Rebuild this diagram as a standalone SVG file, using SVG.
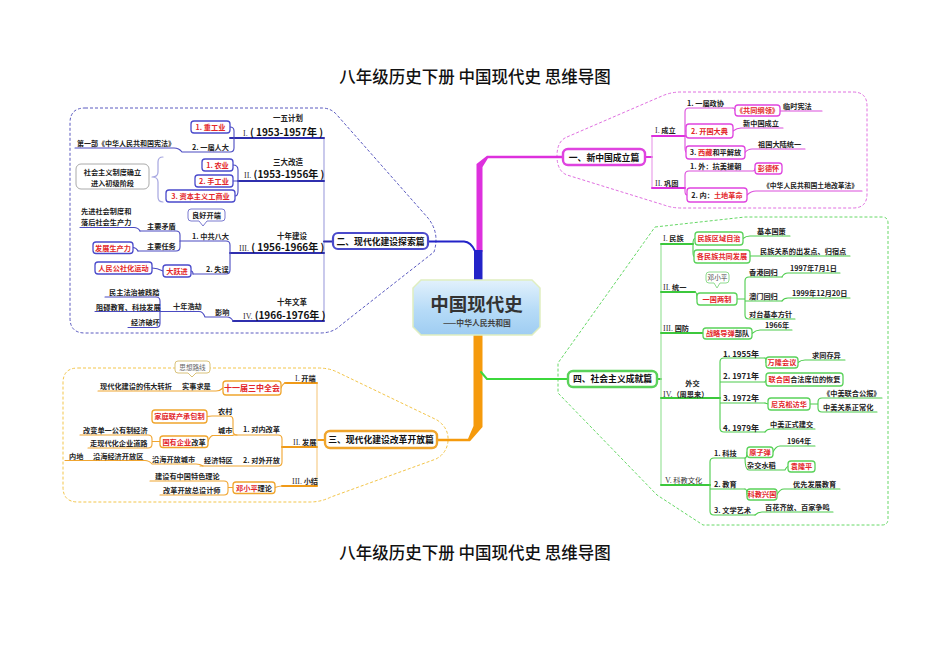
<svg xmlns="http://www.w3.org/2000/svg" width="950" height="672" viewBox="0 0 950 672">
<defs>
<linearGradient id="cg" x1="0" y1="0" x2="0" y2="1">
<stop offset="0" stop-color="#e2f1fc"/>
<stop offset="0.55" stop-color="#b6dbf7"/>
<stop offset="1" stop-color="#9fcdf2"/>
</linearGradient>
<style>
.t{font-family:"Noto Sans CJK SC","Noto Sans",sans-serif;font-size:7.2px;font-weight:bold;fill:#222}
.c{text-anchor:middle}
.r{fill:#e3262a}
.k{fill:#222}
.h{font-size:8.8px;fill:#111}
.yr{font-size:10px;fill:#111}
.sm{font-size:6.8px}
.n8{font-size:8px}
.rn{font-family:"Liberation Serif",serif;font-weight:normal;font-size:8px;fill:#333}
.gr{font-weight:normal;fill:#666;font-size:6.6px}
.ttl{font-family:"Noto Sans CJK SC",sans-serif;font-size:16.5px;font-weight:500;fill:#111;text-anchor:middle}
.L{fill:none;stroke-linecap:round;stroke-linejoin:round}
.lb{stroke:#4a4ac2;stroke-width:1.1}
.lbm{stroke:#2f2fae;stroke-width:2}
.lbv{stroke:#a6a6e0;stroke-width:1.2}
.lm{stroke:#dc4edc;stroke-width:1.1}
.lmm{stroke:#dd30dd;stroke-width:2}
.lmv{stroke:#eaa0ea;stroke-width:1.2}
.lg{stroke:#4ccc4c;stroke-width:1.1}
.lgm{stroke:#3cc83c;stroke-width:2}
.lgv{stroke:#9be39b;stroke-width:1.2}
.lo{stroke:#f0a530;stroke-width:1.1}
.lom{stroke:#f09a18;stroke-width:2}
.lov{stroke:#f6cd8a;stroke-width:1.2}
.bb{fill:#fff;stroke:#4a4acb;stroke-width:1.3}
.bm{fill:#fff;stroke:#df44df;stroke-width:1.3}
.bg{fill:#fff;stroke:#5ad25a;stroke-width:1.3}
.bo{fill:#fff;stroke:#f0a52c;stroke-width:1.3}
.bgray{fill:#fff;stroke:#aaa;stroke-width:1}
.dz{fill:none;stroke-width:1;stroke-dasharray:3 2}
</style>
</defs>
<rect width="950" height="672" fill="#fff"/>

<text class="ttl" x="475" y="83">八年级历史下册 中国现代史 思维导图</text>
<text class="ttl" x="475" y="559">八年级历史下册 中国现代史 思维导图</text>

<!-- dashed outlines around each branch -->
<g id="zones">
<path class="dz" stroke="#5a5ac0" d="M85,108 H322 Q331,108 337,115 L428,218 Q440,233 434,252 L341,325 Q333,333 320,333 H85 Q70,333 70,318 V123 Q70,108 85,108 Z"/>
<path class="dz" stroke="#e070e0" d="M567,137 L662,96 Q671,92 681,92 H853 Q867,92 867,106 V194 Q867,208 853,208 H681 Q672,208 664,205 L567,175 Q557,171 557,156 Q557,141 567,137 Z"/>
<path class="dz" stroke="#66d866" d="M655,227 L745,217 H882 Q888,217 888,223 V519 Q888,525 882,525 H703 L657,495 L558,393 V363 Z"/>
<path class="dz" stroke="#f3c54a" d="M78,368 H318 Q329,368 337,372 L437,420 Q449,428 448,441 Q447,453 436,459 L331,497 Q321,502 310,502 H78 Q63,502 63,487 V383 Q63,368 78,368 Z"/>
</g>

<g id="connectors">
<!-- trunk -->
<path fill="#dd30dd" d="M476.5,252 H482.5 V167 L488,158.2 H563 V155.8 H487 L476.5,164 Z"/>
<path fill="#2323c8" d="M474,250 H482.5 V281 H474 Z"/>
<path class="L" stroke="#2323c8" stroke-width="2" d="M428,241.5 H464 Q471,242 475,251"/>
<path fill="#f59a0c" d="M473.5,335 H482.5 V427 L470,441.2 H437 V438.8 H468 L473.5,426 Z"/>
<path class="L" stroke="#3cd83c" stroke-width="2" d="M481,372 L487,379 H568"/>

<!-- branch: exploration -->
<path class="L lbv" d="M324,138 V321"/>
<path class="L lbm" d="M324,241.5 H333 M230,138 H324 M238,181 H324 M230,253 H324 M233,321 H324"/>
<path class="L lb" d="M230,127 Q234,127 234,131 V148 Q234,152 230,152 H182 M75,148 H174 Q179,148 182,152"/>
<path class="L lb" d="M233,165 Q238,165 238,170 V191 Q238,196 235,196 M233,181 H238"/>
<path class="L lbv" d="M163,157 Q158,157 158,162 V172 Q158,177 152,177 Q158,177 158,182 V197 Q158,202 163,202"/>
<path class="L lb" d="M180,241 H226 Q230,241 230,245 V270 Q230,274 226,274 H193"/>
<path class="L lb" d="M140,231 H176 Q180,231 180,235 V247 Q180,251 176,251 H138"/>
<path class="L lb" d="M80,227.5 H134 Q138,227.5 140,231 M133,247.5 Q136,247.5 138,251 M191,271 Q193,271 193,274 M152,268 Q157,268 163,271"/>
<path class="L lb" d="M205,317 H227 Q231,317 233,321 M160,311.5 H199 Q203,311.5 205,317"/>
<path class="L lb" d="M105,297 H156 Q160,297 160,301 V323.5 Q160,327.5 156,327.5 H128 M95,311.5 H160"/>

<!-- branch: founding -->
<path class="L lmm" d="M645,157 H652"/>
<path class="L lmv" d="M652,136 V188"/>
<path class="L lmm" d="M652,136 H685 M652,188 H685"/>
<path class="L lm" d="M733,108 H689 Q685,108 685,112 V148 Q685,152.5 687,152.5 M685,131 H686"/>
<path class="L lm" d="M733,108 Q735,108 735,110.5 M780,111 H822 M733,131 Q737,128 741,128 H783 M745,152.5 Q748,149 752,149 H805"/>
<path class="L lm" d="M753,171 H689 Q685,171 685,175 V191 Q685,195 687,195 M753,171 Q755,171 755,168.5 M747,195 Q751,191 756,191 H862"/>

<!-- branch: achievements -->
<path class="L lgm" d="M657,379 H661"/>
<path class="L lgv" d="M661,244 V485"/>
<path class="L lgm" d="M661,244 H693 M661,292 H695 M661,333 H703 M661,398 H720 M661,485 H710"/>
<path class="L lg" d="M693,244 Q693,238.5 695,238.5 M693,244 V252 Q693,256.5 694,256.5 M743,238.5 Q746,236 750,236 H790 M750,256 H850"/>
<path class="L lg" d="M695,292 Q697,292 697,299 M737,299 H745 M782,277 H749 Q745,277 745,281 V315 Q745,319 749,319 H795 M745,301 H782"/>
<path class="L lg" d="M782,277 Q784,273 788,273 H840 M782,301 Q784,298 788,298 H850 M752,333.5 Q756,330 760,330 H792"/>
<path class="L lg" d="M765,358 H724 Q720,358 720,362 V428 Q720,432 724,432 H765 M720,382 H765 M720,403 H765"/>
<path class="L lg" d="M765,358 Q766,358 766,362.5 M798,362.5 Q801,360 805,360 H845 M765,382 L766,380 M765,403 L768,404"/>
<path class="L lg" d="M810,404 H818 M882,398 H822 Q818,398 818,402 V408 Q818,412 822,412 H877 M765,432 Q767,429 771,429 H815"/>
<path class="L lg" d="M745,458 H714 Q710,458 710,462 V511 Q710,515 714,515 H755 M710,489 H745"/>
<path class="L lg" d="M745,458 Q747,458 747,452 M745,458 Q745,470 749,470 H785 M773,452 Q776,446 780,446 H815 M785,470 Q787,466.5 788,466.5"/>
<path class="L lg" d="M745,489 Q747,489 747,494.5 M777,494.5 Q780,489 784,489 H840 M755,515 Q758,512 762,512 H833"/>

<!-- branch: reform -->
<path class="L lom" d="M317,440 H325"/>
<path class="L lov" d="M317,383 V486"/>
<path class="L lom" d="M285,383 H317 M282,447 H317 M282,486 H317"/>
<path class="L lo" d="M281,388 Q283,383 286,383 M223,388 Q220,391 216,391 H98"/>
<path class="L lo" d="M233,435 H278 Q282,435 282,439 V462 Q282,466 278,466 H200"/>
<path class="L lo" d="M212,416 H229 Q233,416 233,420 V431 Q233,435 237,435 M212,435.5 H233 M207,416.5 Q209,416 212,416 M208,441.5 Q210,436 213,435.5"/>
<path class="L lo" d="M80,435 H148 Q152,435 152,439 V444 Q152,448 148,448 H88 M152,441.5 H160"/>
<path class="L lo" d="M65,460.5 H145 Q149,460.5 152,464 H196 Q200,464 203,466"/>
<path class="L lo" d="M275,487.5 Q279,486 282,486 M150,481 H224 Q228,481 228,485 V491 Q228,495 224,495 H160 M228,487.5 H233"/>
</g>

<!-- central topic -->
<g id="root">
<path d="M421,280 H532 L540,288 V327 L532,335 H421 L413,327 V288 Z" fill="url(#cg)" stroke="#dfeec0" stroke-width="1.5"/>
<text class="t c" x="476.5" y="311" style="font-size:18.5px;fill:#333">中国现代史</text>
<text class="t c" x="477" y="326" style="font-size:7.8px;fill:#444">——中华人民共和国</text>
</g>

<!-- ===== exploration branch ===== -->
<g id="b2">
<rect class="bb" x="333" y="233" width="95" height="16" rx="5" style="stroke-width:2.2"/>
<text class="t h c" x="380.5" y="244.6">二、现代化建设探索篇</text>
</g>
<g id="b2-1">
<text class="t c" x="288" y="120.5" style="font-size:7.5px">一五计划</text>
<text class="t yr" x="243" y="135.7"><tspan class="rn">I.</tspan> ( 1953-1957年 )</text>
</g>
<g id="b2-1a"><rect class="bb" x="191" y="121" width="39" height="12" rx="3"/><text class="t r c" x="210.5" y="129.7">1. 重工业</text></g>
<g id="b2-1b"><text class="t" x="192" y="149.5">2. 一届人大</text></g>
<g id="b2-1c"><text class="t" x="77" y="145.7" style="font-size:7px">第一部《中华人民共和国宪法》</text></g>
<g id="b2-2">
<text class="t c" x="288" y="164.5" style="font-size:7.5px">三大改造</text>
<text class="t yr" x="244" y="177.7"><tspan class="rn">II.</tspan> (1953-1956年 )</text>
</g>
<g id="b2-2a"><rect class="bb" x="202" y="159" width="31" height="12" rx="3"/><text class="t r c" x="217.5" y="167.7">1. 农业</text></g>
<g id="b2-2b"><rect class="bb" x="195" y="175" width="38" height="12" rx="3"/><text class="t r c" x="214" y="183.7">2. 手工业</text></g>
<g id="b2-2c"><rect class="bb" x="166" y="190" width="69" height="12" rx="3"/><text class="t r c" x="200.5" y="198.7">3. 资本主义工商业</text></g>
<g id="b2-2d"><rect class="bgray" x="76" y="164" width="73" height="25" rx="5"/><text class="t c" x="112.5" y="174.7">社会主义制度确立</text><text class="t c" x="112.5" y="185.7">进入初级阶段</text></g>
<g id="b2-3">
<text class="t c" x="292" y="238.5" style="font-size:7.5px">十年建设</text>
<text class="t yr" x="239" y="250.7"><tspan class="rn">III.</tspan> ( 1956-1966年 )</text>
</g>
<g id="b2-3a"><text class="t" x="192" y="238.7">1. 中共八大</text></g>
<g id="b2-3b"><path d="M191,209 H222 Q225,209 225,212 V218 Q225,221 222,221 H207 L203,226 L199,221 H191 Q188,221 188,218 V212 Q188,209 191,209 Z" fill="#fff" stroke="#7a7ad0" stroke-width="1"/><text class="t c" x="206.5" y="217.7">良好开端</text></g>
<g id="b2-3c"><text class="t" x="147" y="228.7">主要矛盾</text></g>
<g id="b2-3d"><text class="t" x="81" y="213.7">先进社会制度和</text><text class="t" x="81" y="225.2">落后社会生产力</text></g>
<g id="b2-3e"><text class="t" x="147" y="248.7">主要任务</text></g>
<g id="b2-3f"><rect class="bb" x="93" y="242" width="40" height="11.5" rx="3"/><text class="t r c" x="113" y="250.5">发展生产力</text></g>
<g id="b2-3g"><text class="t" x="206" y="271.7">2. 失误</text></g>
<g id="b2-3h"><rect class="bb" x="163" y="265" width="28" height="12" rx="3"/><text class="t r c" x="177" y="273.7">大跃进</text></g>
<g id="b2-3i"><rect class="bb" x="95" y="262" width="57" height="12" rx="3"/><text class="t r c" x="123.5" y="270.7">人民公社化运动</text></g>
<g id="b2-4">
<text class="t c" x="292" y="304.5" style="font-size:7.5px">十年文革</text>
<text class="t yr" x="243" y="318.7"><tspan class="rn">IV.</tspan> (1966-1976年 )</text>
</g>
<g id="b2-4a"><text class="t" x="215" y="315.2">影响</text></g>
<g id="b2-4b"><text class="t" x="173" y="309.2">十年浩劫</text></g>
<g id="b2-4c"><text class="t" x="109" y="294.7">民主法治被践踏</text></g>
<g id="b2-4d"><text class="t" x="96" y="309.7">阻碍教育、科技发展</text></g>
<g id="b2-4e"><text class="t" x="131" y="325.2">经济破坏</text></g>

<!-- ===== founding branch ===== -->
<g id="b1">
<rect class="bm" x="563" y="149" width="82" height="16" rx="5" style="stroke-width:2.4"/>
<text class="t h c" x="604" y="160.5">一、新中国成立篇</text>
</g>
<g id="b1-1"><text class="t" x="655" y="133"><tspan class="rn">I.</tspan> 成立</text></g>
<g id="b1-1a"><text class="t" x="687" y="105.7">1. 一届政协</text></g>
<g id="b1-1b"><rect class="bm" x="735" y="105" width="45" height="11" rx="3"/><text class="t r c" x="757.5" y="113.2">《共同纲领》</text></g>
<g id="b1-1c"><text class="t" x="783" y="108.7">临时宪法</text></g>
<g id="b1-1d"><rect class="bm" x="686" y="124" width="47" height="14" rx="3"/><text class="t r c" x="709.5" y="133.7">2. 开国大典</text></g>
<g id="b1-1e"><text class="t" x="743" y="125.7">新中国成立</text></g>
<g id="b1-1f"><rect class="bm" x="686" y="146" width="59" height="13" rx="3"/><text class="t c" x="715.5" y="155.2">3. <tspan class="r">西藏</tspan>和平解放</text></g>
<g id="b1-1g"><text class="t" x="758" y="146.7">祖国大陆统一</text></g>
<g id="b1-2"><text class="t" x="655" y="185.7"><tspan class="rn">II.</tspan> 巩固</text></g>
<g id="b1-2a"><text class="t" x="690" y="168.7">1. 外：抗美援朝</text></g>
<g id="b1-2b"><rect class="bm" x="755" y="163" width="27" height="11" rx="3"/><text class="t r c" x="768.5" y="171.2">彭德怀</text></g>
<g id="b1-2c"><rect class="bm" x="687" y="188" width="60" height="14" rx="3"/><text class="t c" x="717" y="197.7">2. 内：<tspan class="r">土地革命</tspan></text></g>
<g id="b1-2d"><text class="t sm" x="763" y="188.2">《中华人民共和国土地改革法》</text></g>

<!-- ===== achievements branch ===== -->
<g id="b4">
<rect class="bg" x="568" y="371" width="89" height="16" rx="5" style="stroke-width:2.4"/>
<text class="t h c" x="612.5" y="382.2">四、社会主义成就篇</text>
</g>
<g id="b4-1"><text class="t" x="663" y="240.7"><tspan class="rn">I.</tspan> 民族</text></g>
<g id="b4-1a"><rect class="bg" x="695" y="232" width="48" height="13" rx="3"/><text class="t r c" x="719" y="241.2">民族区域自治</text></g>
<g id="b4-1b"><text class="t" x="757" y="233.7">基本国策</text></g>
<g id="b4-1c"><rect class="bg" x="694" y="250" width="56" height="13" rx="3"/><text class="t r c" x="722" y="259.2">各民族共同发展</text></g>
<g id="b4-1d"><text class="t" x="760" y="253.7">民族关系的出发点、归宿点</text></g>
<g id="b4-2"><text class="t" x="663" y="289.7"><tspan class="rn">II.</tspan> 统一</text></g>
<g id="b4-2a"><path d="M709,272 H726 Q729,272 729,275 V280 Q729,283 726,283 H720 L717,288 L714,283 H709 Q706,283 706,280 V275 Q706,272 709,272 Z" fill="#fff" stroke="#8edc8e" stroke-width="1"/><text class="t gr c" x="717.5" y="280.2" style="fill:#444">邓小平</text></g>
<g id="b4-2b"><rect class="bg" x="697" y="293" width="40" height="12" rx="3"/><text class="t r c" x="717" y="301.7">一国两制</text></g>
<g id="b4-2c"><text class="t" x="749" y="274.7">香港回归</text></g>
<g id="b4-2d"><text class="t" x="790" y="270.7">1997年7月1日</text></g>
<g id="b4-2e"><text class="t" x="749" y="298.7">澳门回归</text></g>
<g id="b4-2f"><text class="t" x="792" y="295.7">1999年12月20日</text></g>
<g id="b4-2g"><text class="t" x="749" y="316.7">对台基本方针</text></g>
<g id="b4-3"><text class="t" x="663" y="330.7"><tspan class="rn">III.</tspan> 国防</text></g>
<g id="b4-3a"><rect class="bg" x="703" y="328" width="49" height="11" rx="3"/><text class="t c" x="727.5" y="336.2"><tspan class="r">战略导弹</tspan>部队</text></g>
<g id="b4-3b"><text class="t" x="765" y="327.7">1966年</text></g>
<g id="b4-4"><text class="t c" x="692.5" y="385.7">外交</text><text class="t" x="663" y="396.7"><tspan class="rn">IV.</tspan>（周恩来）</text></g>
<g id="b4-4a"><text class="t n8" x="723" y="356.7">1. 1955年</text></g>
<g id="b4-4b"><rect class="bg" x="766" y="357" width="32" height="11" rx="3"/><text class="t r c" x="782" y="365.2">万隆会议</text></g>
<g id="b4-4c"><text class="t" x="812" y="357.7">求同存异</text></g>
<g id="b4-4d"><text class="t n8" x="723" y="378.5">2. 1971年</text></g>
<g id="b4-4e"><rect class="bg" x="766" y="373" width="77" height="13" rx="3"/><text class="t c" x="804.5" y="382.2"><tspan class="r">联合国</tspan>合法席位的恢复</text></g>
<g id="b4-4f"><text class="t n8" x="723" y="401">3. 1972年</text></g>
<g id="b4-4g"><rect class="bg" x="768" y="398" width="42" height="12" rx="3"/><text class="t r c" x="789" y="406.7">尼克松访华</text></g>
<g id="b4-4h"><text class="t" x="823" y="395.7">《中美联合公报》</text></g>
<g id="b4-4i"><text class="t" x="823" y="409.7">中美关系正常化</text></g>
<g id="b4-4j"><text class="t n8" x="723" y="431">4. 1979年</text></g>
<g id="b4-4k"><text class="t" x="770" y="426.7">中美正式建交</text></g>
<g id="b4-5"><text class="t" x="665" y="482.7" style="font-weight:normal;fill:#333"><tspan class="rn">V.</tspan> 科教文化</text></g>
<g id="b4-5a"><text class="t" x="714" y="455.7">1. 科技</text></g>
<g id="b4-5b"><rect class="bg" x="747" y="447" width="26" height="10.5" rx="3"/><text class="t r c" x="760" y="454.9">原子弹</text></g>
<g id="b4-5c"><text class="t" x="787" y="443.5">1964年</text></g>
<g id="b4-5d"><text class="t" x="747" y="467.7">杂交水稻</text></g>
<g id="b4-5e"><rect class="bg" x="788" y="461" width="27" height="11" rx="3"/><text class="t r c" x="801.5" y="469.2">袁隆平</text></g>
<g id="b4-5f"><text class="t" x="714" y="486.7">2. 教育</text></g>
<g id="b4-5g"><rect class="bg" x="747" y="489" width="30" height="11" rx="3"/><text class="t r c" x="762" y="497.2">科教兴国</text></g>
<g id="b4-5h"><text class="t" x="793" y="486.7">优先发展教育</text></g>
<g id="b4-5i"><text class="t" x="714" y="512.7">3. 文学艺术</text></g>
<g id="b4-5j"><text class="t" x="765" y="509.7">百花齐放、百家争鸣</text></g>

<!-- ===== reform branch ===== -->
<g id="b3">
<rect class="bo" x="325" y="431" width="112" height="17" rx="5" style="stroke-width:2.4"/>
<text class="t h c" x="381" y="443">三、现代化建设改革开放篇</text>
</g>
<g id="b3-1"><text class="t" x="295" y="380.7"><tspan class="rn">I.</tspan> 开端</text></g>
<g id="b3-1a"><rect class="bo" x="223" y="381" width="58" height="14" rx="3"/><text class="t r c n8" x="252" y="390.9">十一届三中全会</text></g>
<g id="b3-1b"><text class="t" x="182" y="388.7">实事求是</text></g>
<g id="b3-1c"><path d="M178,361 H207 Q210,361 210,364 V370 Q210,373 207,373 H196 L192,377 L188,373 H178 Q175,373 175,370 V364 Q175,361 178,361 Z" fill="#fff" stroke="#d9c27a" stroke-width="1"/><text class="t gr c" x="192.5" y="369.6">思想路线</text></g>
<g id="b3-1d"><text class="t" x="100" y="388.7">现代化建设的伟大转折</text></g>
<g id="b3-2"><text class="t" x="293" y="444.7"><tspan class="rn">II.</tspan> 发展</text></g>
<g id="b3-2a"><text class="t" x="243" y="432.2">1. 对内改革</text></g>
<g id="b3-2b"><text class="t" x="218" y="414.2">农村</text></g>
<g id="b3-2c"><rect class="bo" x="152" y="410" width="55" height="13" rx="3"/><text class="t r c" x="179.5" y="419.2">家庭联产承包制</text></g>
<g id="b3-2d"><text class="t" x="218" y="433.2">城市</text></g>
<g id="b3-2e"><rect class="bo" x="160" y="436" width="48" height="11.5" rx="3"/><text class="t c" x="184" y="444.5"><tspan class="r">国有企业</tspan>改革</text></g>
<g id="b3-2f"><text class="t" x="83" y="432.7">改变单一公有制经济</text></g>
<g id="b3-2g"><text class="t" x="90" y="445.7">走现代化企业道路</text></g>
<g id="b3-2h"><text class="t" x="243" y="462.7">2. 对外开放</text></g>
<g id="b3-2i"><text class="t" x="204" y="462.7">经济特区</text></g>
<g id="b3-2j"><text class="t" x="152" y="461.5">沿海开放城市</text></g>
<g id="b3-2k"><text class="t" x="93" y="458.7">沿海经济开放区</text></g>
<g id="b3-2l"><text class="t" x="69" y="458.7">内地</text></g>
<g id="b3-3"><text class="t" x="292" y="483.7"><tspan class="rn">III.</tspan> 小结</text></g>
<g id="b3-3a"><rect class="bo" x="233" y="482" width="42" height="11.5" rx="3"/><text class="t c" x="254" y="490.5"><tspan class="r">邓小平</tspan>理论</text></g>
<g id="b3-3b"><text class="t" x="155" y="478.7">建设有中国特色理论</text></g>
<g id="b3-3c"><text class="t" x="163" y="492.7">改革开放总设计师</text></g>
</svg>
